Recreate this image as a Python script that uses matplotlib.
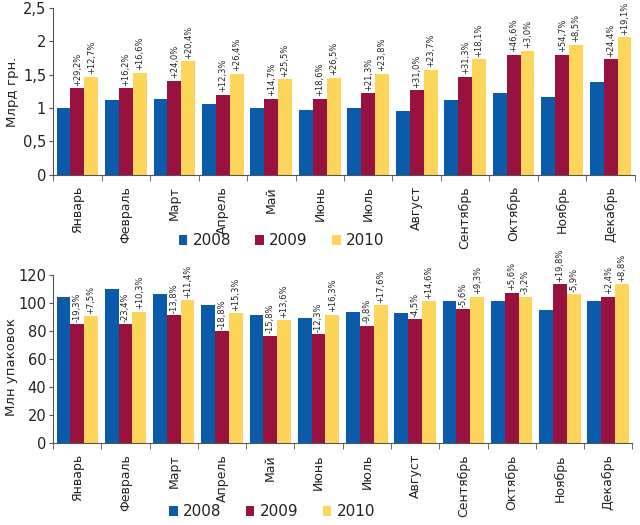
import numpy as np
import matplotlib
matplotlib.use("Agg")
import matplotlib.pyplot as plt
from matplotlib.ticker import FuncFormatter, FixedLocator

plt.rcParams['font.family'] = ['Liberation Sans Narrow', 'DejaVu Sans']

months = ['Январь', 'Февраль', 'Март', 'Апрель', 'Май', 'Июнь',
          'Июль', 'Август', 'Сентябрь', 'Октябрь', 'Ноябрь', 'Декабрь']
years = ['2008', '2009', '2010']

# Млрд грн.
money_2008 = [1.00, 1.12, 1.14, 1.06, 1.00, 0.97, 1.00, 0.96, 1.12, 1.22, 1.16, 1.39]
money_2009 = [1.30, 1.30, 1.41, 1.20, 1.14, 1.14, 1.22, 1.27, 1.47, 1.80, 1.80, 1.73]
money_2010 = [1.47, 1.53, 1.70, 1.51, 1.43, 1.45, 1.51, 1.57, 1.73, 1.86, 1.95, 2.06]
money_pct_2009 = ['+29,2%', '+16,2%', '+24,0%', '+12,3%', '+14,7%', '+18,6%',
                  '+21,3%', '+31,0%', '+31,3%', '+46,6%', '+54,7%', '+24,4%']
money_pct_2010 = ['+12,7%', '+16,6%', '+20,4%', '+26,4%', '+25,5%', '+26,5%',
                  '+23,8%', '+23,7%', '+18,1%', '+3,0%', '+8,5%', '+19,1%']

# Млн упаковок
pack_2008 = [104.5, 110.2, 106.4, 98.6, 91.4, 89.5, 93.8, 92.6, 101.4, 101.4, 94.8, 101.4]
pack_2009 = [84.8, 84.8, 91.4, 80.0, 76.7, 77.9, 83.8, 88.6, 95.7, 107.4, 113.3, 104.5]
pack_2010 = [90.7, 93.8, 102.1, 92.6, 87.9, 91.7, 98.6, 101.4, 104.5, 104.5, 106.4, 113.3]
pack_pct_2009 = ['-19,3%', '-23,4%', '-13,8%', '-18,8%', '-15,8%', '-12,3%',
                 '-9,8%', '-4,5%', '-5,6%', '+5,6%', '+19,8%', '+2,4%']
pack_pct_2010 = ['+7,5%', '+10,3%', '+11,4%', '+15,3%', '+13,6%', '+16,3%',
                 '+17,6%', '+14,6%', '+9,3%', '-3,2%', '-5,9%', '+8,8%']

colors = ['#0A5CAA', '#99113F', '#FDD55A']

def comma_fmt(v, pos):
    s = ('%g' % v)
    return s.replace('.', ',')

def draw(ax, series, pcts, ymax, ystep, ylabel):
    x = np.arange(len(months))
    w = 0.286
    for k, vals in enumerate(series):
        ax.bar(x + (k - 1) * w, vals, w, color=colors[k], label=years[k], zorder=2)
    for k in (1, 2):
        for i, t in enumerate(pcts[k - 1]):
            ax.text(x[i] + (k - 1) * w, series[k][i] + ymax * 0.015, t,
                    rotation=90, ha='center', va='bottom', fontsize=6, color='#222222')
    ax.set_xlim(-0.5, len(months) - 0.5)
    ax.set_ylim(0, ymax)
    ax.set_yticks(np.arange(0, ymax + ystep / 2, ystep))
    ax.yaxis.set_major_formatter(FuncFormatter(comma_fmt))
    ax.set_xticks(x)
    ax.set_xticklabels(months, rotation=90, fontsize=9, color='#222222')
    ax.tick_params(axis='x', which='major', length=0, pad=8)
    ax.xaxis.set_minor_locator(FixedLocator(np.arange(-0.5, len(months), 1)))
    ax.tick_params(axis='x', which='minor', length=4, color='#555555')
    ax.tick_params(axis='y', labelsize=10.5, length=3, pad=2, color='#555555', labelcolor='#222222')
    for s in ['top', 'right']:
        ax.spines[s].set_visible(False)
    ax.spines['left'].set_color('#555555')
    ax.spines['bottom'].set_color('#555555')
    ax.set_ylabel(ylabel, fontsize=9.5, color='#222222')

fig = plt.figure(figsize=(6.4, 5.25), dpi=100)
ax1 = fig.add_axes([0.083, 0.667, 0.909, 0.318])
ax2 = fig.add_axes([0.083, 0.156, 0.905, 0.32])

draw(ax1, [money_2008, money_2009, money_2010], [money_pct_2009, money_pct_2010],
     2.5, 0.5, 'Млрд грн.')
draw(ax2, [pack_2008, pack_2009, pack_2010], [pack_pct_2009, pack_pct_2010],
     120, 20, 'Млн упаковок')
ax1.yaxis.set_label_coords(-0.058, 0.5)
ax2.yaxis.set_label_coords(-0.06, 0.45)

for ax, x0, y in ((ax1, 0.44, 0.541), (ax2, 0.425, 0.025)):
    h, l = ax.get_legend_handles_labels()
    fig.legend(h, l, loc='center', bbox_to_anchor=(x0, y), ncol=3, frameon=False,
               fontsize=11, handlelength=0.55, handleheight=0.55, handletextpad=0.35,
               columnspacing=1.6, labelcolor='#222222')

fig.savefig('out.png', dpi=100)
